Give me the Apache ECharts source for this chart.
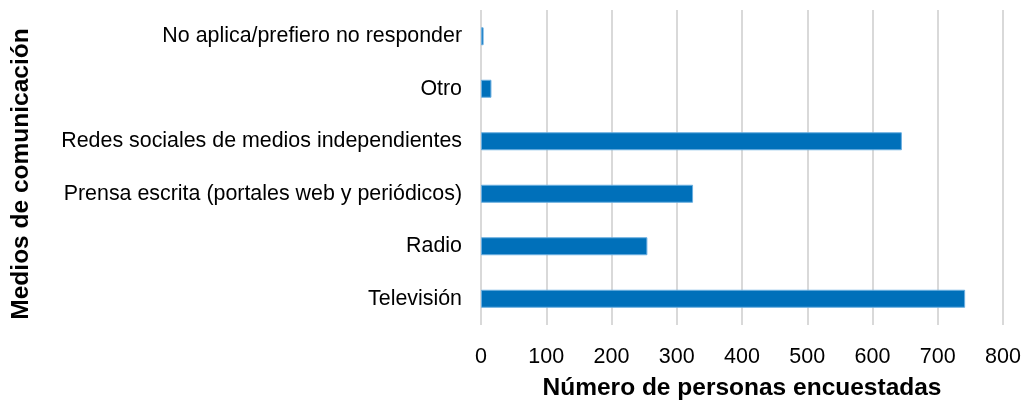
<!DOCTYPE html>
<html>
<head>
<meta charset="utf-8">
<script src="https://cdn.jsdelivr.net/npm/echarts@6/dist/echarts.min.js"></script>
<style>
  html, body { margin: 0; padding: 0; background: #fff; }
  #chart { width: 1026px; height: 401px; }
</style>
</head>
<body>
<div id="chart"></div>
<script>
// categorias de abajo hacia arriba
var categories = [
  'Televisión',
  'Radio',
  'Prensa escrita (portales web y periódicos)',
  'Redes sociales de medios independientes',
  'Otro',
  'No aplica/prefiero no responder'
];
var respuestas = [742, 255, 325, 645, 16, 4];
var xTicks = { min: 0, max: 800, interval: 100 };

var chart = echarts.init(document.getElementById('chart'));

chart.setOption({
  animation: false,
  textStyle: { fontFamily: 'Liberation Sans, Arial, sans-serif' },
  grid: { left: 481, right: 23, top: 10, bottom: 76, containLabel: false, outerBoundsMode: 'none' },
  xAxis: {
    type: 'value',
    min: xTicks.min,
    max: xTicks.max,
    interval: xTicks.interval,
    name: 'Número de personas encuestadas',
    nameLocation: 'middle',
    nameGap: 51,
    nameTextStyle: { fontSize: 24.5, fontWeight: 'bold', color: '#000' },
    axisLine: { show: false },
    axisTick: { show: false },
    axisLabel: { fontSize: 21.5, color: '#000', margin: 21 },
    splitLine: { show: true, lineStyle: { color: '#d9d9d9', width: 2 } }
  },
  yAxis: {
    type: 'category',
    data: categories,
    name: 'Medios de comunicación',
    nameLocation: 'middle',
    nameRotate: 90,
    nameGap: 447,
    nameTextStyle: { fontSize: 24.5, fontWeight: 'bold', color: '#000', padding: [0, 13, 0, 0] },
    axisLine: { show: false },
    axisTick: { show: false },
    axisLabel: { fontSize: 21.4, color: '#000', margin: 19 },
    splitLine: { show: false }
  },
  series: [{
    type: 'bar',
    data: respuestas,
    barWidth: 18,
    itemStyle: { color: '#0070BA', borderColor: '#6aaee0', borderWidth: 1 }
  }]
});
</script>
</body>
</html>
